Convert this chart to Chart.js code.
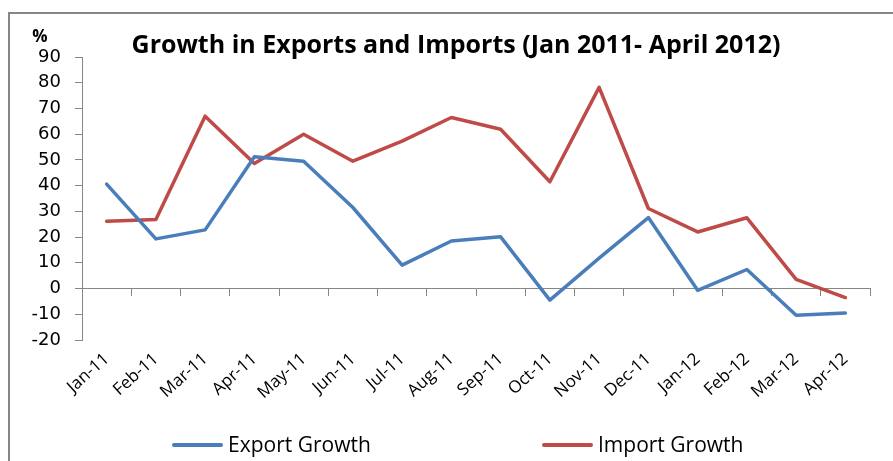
<!DOCTYPE html>
<html><head><meta charset="utf-8">
<script src="https://cdn.jsdelivr.net/npm/chart.js@4/dist/chart.umd.min.js"></script>
<style>
html,body{margin:0;padding:0;background:#fff;}
#wrap{position:relative;width:893px;height:461px;overflow:hidden;background:#fff;}
#frame{position:absolute;left:8px;top:12px;width:1000px;height:1000px;border-left:2px solid #868686;border-top:2px solid #868686;}
#c{position:absolute;left:0;top:0;}
#legend{position:absolute;left:0;top:0;width:893px;height:461px;pointer-events:none;font-family:'Open Sans',sans-serif;font-size:21px;color:#000;}
.item{position:absolute;top:430px;height:29px;line-height:29px;display:flex;align-items:center;white-space:nowrap;}
.sw{width:51px;height:4px;margin-right:5px;border-radius:2px;}
</style></head>
<body><div id="wrap"><div id="frame"></div><canvas id="c" width="893" height="461"></canvas><div id="legend"></div></div>
<script>
const categories = ['Jan-11','Feb-11','Mar-11','Apr-11','May-11','Jun-11','Jul-11','Aug-11','Sep-11','Oct-11','Nov-11','Dec-11','Jan-12','Feb-12','Mar-12','Apr-12'];
const exportGrowth = [40.6, 19.3, 22.8, 51.2, 49.5, 31.5, 9.1, 18.5, 20.1, -4.5, 11.8, 27.6, -0.7, 7.4, -10.4, -9.5];
const importGrowth = [26.2, 26.8, 67.0, 48.6, 60.0, 49.5, 57.3, 66.5, 61.9, 41.5, 78.2, 31.1, 22.0, 27.5, 3.6, -3.5];
const seriesNames = ['Export Growth', 'Import Growth'];
const seriesColors = ['#4A7EBB', '#BE4B48'];
const yMin = -20, yMax = 90, yStep = 10;
const chartTitle = 'Growth in Exports and Imports (Jan 2011- April 2012)';
const unitLabel = '%';

const axisGray = '#868686';

const textPlugin = {
  id: 'chartTexts',
  afterDraw(chart) {
    const {ctx, chartArea} = chart;
    ctx.save();
    ctx.fillStyle = '#000';
    ctx.textAlign = 'center';
    ctx.textBaseline = 'middle';
    ctx.font = 'bold 25px "Open Sans"';
    ctx.fillText(chartTitle, (chartArea.left + chartArea.right) / 2 - 20, chartArea.top - 11);
    ctx.font = 'bold 17px "Open Sans"';
    ctx.fillText(unitLabel, chartArea.left - 42, chartArea.top - 20);
    ctx.restore();
  }
};

const chart = new Chart(document.getElementById('c'), {
  type: 'line',
  data: {
    labels: categories,
    datasets: [
      {label: seriesNames[0], data: exportGrowth, borderColor: seriesColors[0], backgroundColor: seriesColors[0]},
      {label: seriesNames[1], data: importGrowth, borderColor: seriesColors[1], backgroundColor: seriesColors[1]}
    ]
  },
  options: {
    responsive: false,
    animation: false,
    devicePixelRatio: 1,
    layout: {padding: {top: 57, left: 0, right: 23, bottom: 61}},
    elements: {
      line: {borderWidth: 3.5, tension: 0, borderJoinStyle: 'round', borderCapStyle: 'round', fill: false},
      point: {radius: 0, hoverRadius: 0}
    },
    plugins: {
      legend: {display: false},
      tooltip: {enabled: false},
      title: {display: false}
    },
    scales: {
      x: {
        type: 'category',
        position: 'bottom',
        offset: true,
        grid: {display: false, drawTicks: false},
        border: {display: false},
        ticks: {
          color: '#000',
          font: {family: 'Open Sans', size: 17},
          minRotation: 42, maxRotation: 42,
          padding: 9,
          autoSkip: false
        },
        afterFit(scale) { scale.height = 60; }
      },
      x2: {
        type: 'category',
        axis: 'x',
        position: {y: 0},
        offset: true,
        grid: {offset: true, drawOnChartArea: false, drawTicks: true, tickLength: 7, color: axisGray, lineWidth: 1},
        border: {display: true, color: axisGray, width: 1},
        ticks: {display: false}
      },
      y: {
        type: 'linear',
        min: yMin, max: yMax,
        grid: {drawOnChartArea: false, drawTicks: true, tickLength: 7, color: axisGray},
        border: {display: true, color: axisGray, width: 1},
        ticks: {
          stepSize: yStep,
          color: '#000',
          font: {family: 'DejaVu Sans', size: 18},
          padding: 14
        },
        afterFit(scale) { scale.width = 82; }
      }
    }
  },
  plugins: [textPlugin]
});

// HTML legend built from the chart's datasets
const legendEl = document.getElementById('legend');
const legendLefts = [172, 542];
chart.data.datasets.forEach((ds, i) => {
  const item = document.createElement('div');
  item.className = 'item';
  item.style.left = legendLefts[i] + 'px';
  const sw = document.createElement('span');
  sw.className = 'sw';
  sw.style.background = ds.borderColor;
  const tx = document.createElement('span');
  tx.textContent = ds.label;
  item.appendChild(sw);
  item.appendChild(tx);
  legendEl.appendChild(item);
});
</script>
</body></html>
